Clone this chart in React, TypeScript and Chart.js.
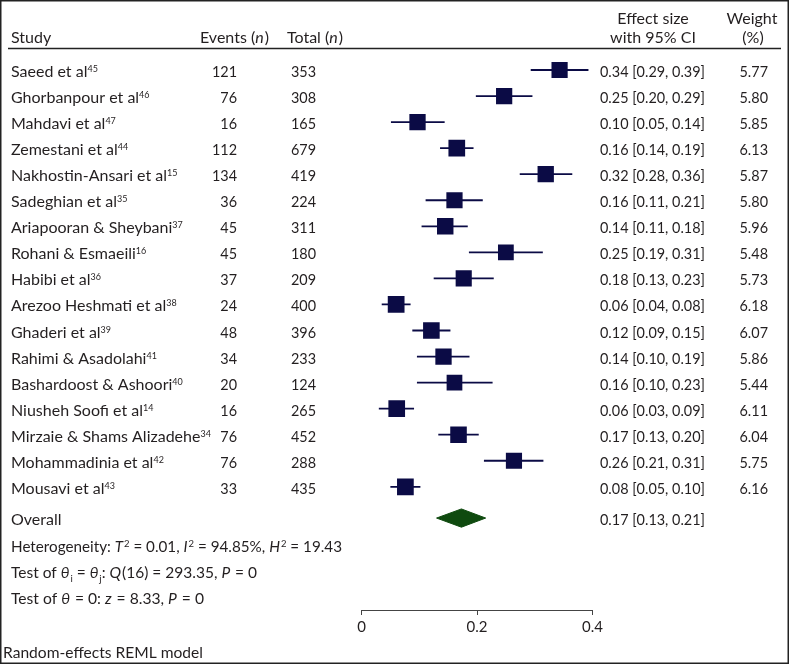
import React, { useEffect, useRef } from "react";
import { Chart, registerables } from "chart.js";

Chart.register(...registerables);

// ---------------- data ----------------
const studies = [
  "Saeed et al",
  "Ghorbanpour et al",
  "Mahdavi et al",
  "Zemestani et al",
  "Nakhostin-Ansari et al",
  "Sadeghian et al",
  "Ariapooran & Sheybani",
  "Rohani & Esmaeili",
  "Habibi et al",
  "Arezoo Heshmati et al",
  "Ghaderi et al",
  "Rahimi & Asadolahi",
  "Bashardoost & Ashoori",
  "Niusheh Soofi et al",
  "Mirzaie & Shams Alizadehe",
  "Mohammadinia et al",
  "Mousavi et al",
];
const refs = ["45", "46", "47", "44", "15", "35", "37", "16", "36", "38", "39", "41", "40", "14", "34", "42", "43"];
const events = [121, 76, 16, 112, 134, 36, 45, 45, 37, 24, 48, 34, 20, 16, 76, 76, 33];
const totals = [353, 308, 165, 679, 419, 224, 311, 180, 209, 400, 396, 233, 124, 265, 452, 288, 435];
const effects = [0.343, 0.247, 0.097, 0.165, 0.319, 0.161, 0.145, 0.25, 0.177, 0.06, 0.121, 0.142, 0.161, 0.061, 0.168, 0.264, 0.076];
const lowerCI = [0.293, 0.198, 0.051, 0.136, 0.274, 0.111, 0.104, 0.186, 0.125, 0.035, 0.088, 0.096, 0.096, 0.03, 0.133, 0.212, 0.05];
const upperCI = [0.393, 0.296, 0.144, 0.194, 0.365, 0.21, 0.184, 0.314, 0.229, 0.085, 0.154, 0.187, 0.227, 0.091, 0.203, 0.315, 0.102];
const effectLabels = [
  "0.34 [0.29, 0.39]",
  "0.25 [0.20, 0.29]",
  "0.10 [0.05, 0.14]",
  "0.16 [0.14, 0.19]",
  "0.32 [0.28, 0.36]",
  "0.16 [0.11, 0.21]",
  "0.14 [0.11, 0.18]",
  "0.25 [0.19, 0.31]",
  "0.18 [0.13, 0.23]",
  "0.06 [0.04, 0.08]",
  "0.12 [0.09, 0.15]",
  "0.14 [0.10, 0.19]",
  "0.16 [0.10, 0.23]",
  "0.06 [0.03, 0.09]",
  "0.17 [0.13, 0.20]",
  "0.26 [0.21, 0.31]",
  "0.08 [0.05, 0.10]",
];
const weights = [5.77, 5.8, 5.85, 6.13, 5.87, 5.8, 5.96, 5.48, 5.73, 6.18, 6.07, 5.86, 5.44, 6.11, 6.04, 5.75, 6.16];

const overallEffect = 0.173;
const overallLower = 0.13;
const overallUpper = 0.215;
const overallLabel = "0.17 [0.13, 0.21]";

const tau2 = "0.01";
const i2 = "94.85";
const h2 = "19.43";
const qDf = "16";
const qStat = "293.35";
const qP = "0";
const zStat = "8.33";
const zP = "0";

const xTicks = [0, 0.2, 0.4];

// ---------------- styles ----------------
const FONT = "Lato, 'Open Sans', 'DejaVu Sans', sans-serif";
const NAVY = "#0b0b45";
const GREEN = "#0f4a0f";
const TEXT = "#231f20";
const SIZE = 16;
const SMALL = 10;
const ROW_PX = 26.05;
const FIRST_ROW_PX = 70;
const AXIS_PX = 610;
const DIAMOND_HALF = 0.35;
const EFFECT_TEXT_W = 105;
let numSx = 0.9;

type Seg = { t: string; it?: boolean; sup?: boolean; sub?: boolean; num?: boolean };

function fontStr(size: number, italic = false) {
  return `${italic ? "italic " : ""}${size}px ${FONT}`;
}

function drawText(
  ctx: CanvasRenderingContext2D,
  t: string,
  x: number,
  y: number,
  align: CanvasTextAlign = "left",
  opts: { size?: number; it?: boolean; sx?: number; fit?: number } = {}
) {
  ctx.font = fontStr(opts.size ?? SIZE, opts.it);
  let sx = opts.sx ?? 1;
  if (opts.fit) sx = opts.fit / ctx.measureText(t).width;
  ctx.save();
  ctx.translate(x, y);
  ctx.scale(sx, 1);
  ctx.textAlign = align;
  ctx.textBaseline = "alphabetic";
  ctx.fillText(t, 0, 0);
  ctx.restore();
}

function segW(ctx: CanvasRenderingContext2D, s: Seg) {
  const size = s.sup || s.sub ? SMALL : SIZE;
  ctx.font = fontStr(size, s.it);
  return ctx.measureText(s.t).width * (s.num ? numSx : 1) + (s.it ? 1 : 0);
}

function drawRich(ctx: CanvasRenderingContext2D, segs: Seg[], x: number, baseline: number, fit?: number) {
  let nat = 0;
  for (const s of segs) nat += segW(ctx, s);
  const f = fit ? fit / nat : 1;
  ctx.save();
  ctx.translate(x, baseline);
  ctx.scale(f, 1);
  let cx = 0;
  for (const s of segs) {
    const w = segW(ctx, s);
    const sx = s.num ? numSx : 1;
    const dy = s.sup ? -5 : s.sub ? 4 : 0;
    ctx.save();
    ctx.translate(cx, dy);
    ctx.scale(sx, 1);
    ctx.textAlign = "left";
    ctx.textBaseline = "alphabetic";
    ctx.fillText(s.t, 0, 0);
    ctx.restore();
    cx += w;
  }
  ctx.restore();
}

const App = () => {
  const ref = useRef<HTMLCanvasElement>(null);

  useEffect(() => {
    const canvas = ref.current;
    if (!canvas) return;

    const overallRow = studies.length + 0.2;
    const squares = effects.map((e, i) => ({ x: e, y: i }));
    const radii = weights.map((w) => (16.3 * Math.sqrt(w / 5.85)) / (2 * Math.SQRT1_2));
    const whiskers: any[] = [];
    lowerCI.forEach((lo, i) => {
      whiskers.push({ x: lo, y: i }, { x: upperCI[i], y: i }, { x: null, y: null });
    });
    const diamond = [
      { x: overallLower, y: overallRow },
      { x: overallEffect, y: overallRow - DIAMOND_HALF },
      { x: overallUpper, y: overallRow },
      { x: overallEffect, y: overallRow + DIAMOND_HALF },
      { x: overallLower, y: overallRow },
    ];

    const yMin = -FIRST_ROW_PX / ROW_PX;
    const yMax = yMin + AXIS_PX / ROW_PX;

    const textPlugin = {
      id: "forestText",
      afterDraw(chart: any) {
        const ctx: CanvasRenderingContext2D = chart.ctx;
        const yScale = chart.scales.y;
        ctx.save();
        ctx.fillStyle = TEXT;
        ctx.font = fontStr(SIZE);
        numSx = EFFECT_TEXT_W / ctx.measureText(effectLabels[0]).width;

        // header
        drawText(ctx, "Effect size", 653, 24, "center");
        drawText(ctx, "Weight", 752, 24, "center");
        drawText(ctx, "Study", 11, 42.5);
        drawRich(ctx, [{ t: "Events (" }, { t: "n", it: true }, { t: ")" }], 200, 42.5);
        drawRich(ctx, [{ t: "Total (" }, { t: "n", it: true }, { t: ")" }], 287, 42.5);
        drawText(ctx, "with 95% CI", 653, 42.5, "center");
        drawText(ctx, "(%)", 753, 42.5, "center");

        // header rule
        ctx.strokeStyle = "#222";
        ctx.lineWidth = 1.5;
        ctx.beginPath();
        ctx.moveTo(8, 48.5);
        ctx.lineTo(781, 48.5);
        ctx.stroke();

        // rows
        studies.forEach((name, i) => {
          const b = yScale.getPixelForValue(i) + 7;
          drawRich(ctx, [{ t: name }, { t: refs[i], sup: true, num: true }], 11, b);
          drawText(ctx, String(events[i]), 237, b, "right", { sx: numSx });
          drawText(ctx, String(totals[i]), 291, b, "left", { sx: numSx });
          drawText(ctx, effectLabels[i], 600, b, "left", { sx: numSx });
          drawText(ctx, weights[i].toFixed(2), 768, b, "right", { sx: numSx });
        });

        // overall
        const ob = yScale.getPixelForValue(overallRow) + 7;
        drawText(ctx, "Overall", 11, ob);
        drawText(ctx, overallLabel, 600, ob, "left", { sx: numSx });

        // footer statistics
        drawRich(
          ctx,
          [
            { t: "Heterogeneity: " },
            { t: "T", it: true },
            { t: "2", sup: true },
            { t: ` = ${tau2}, ` },
            { t: "I", it: true },
            { t: "2", sup: true },
            { t: ` = ${i2}%, ` },
            { t: "H", it: true },
            { t: "2", sup: true },
            { t: ` = ${h2}` },
          ],
          11,
          551.5,
          331
        );
        drawRich(
          ctx,
          [
            { t: "Test of " },
            { t: "θ", it: true },
            { t: "i", sub: true },
            { t: " = " },
            { t: "θ", it: true },
            { t: "j", sub: true },
            { t: ": " },
            { t: "Q", it: true },
            { t: `(${qDf}) = ${qStat}, ` },
            { t: "P", it: true },
            { t: ` = ${qP}` },
          ],
          11,
          577.5,
          246
        );
        drawRich(
          ctx,
          [
            { t: "Test of " },
            { t: "θ", it: true },
            { t: " = 0: " },
            { t: "z", it: true },
            { t: ` = ${zStat}, ` },
            { t: "P", it: true },
            { t: ` = ${zP}` },
          ],
          11,
          604,
          193
        );
        drawText(ctx, "Random-effects REML model", 3, 657.5, "left", { fit: 200 });

        // frame
        ctx.strokeStyle = "#222";
        ctx.lineWidth = 1.5;
        ctx.strokeRect(0.75, 0.75, 787.5, 662.5);
        ctx.restore();
      },
    };

    const chart = new Chart(canvas, {
      type: "scatter",
      data: {
        datasets: [
          {
            type: "scatter",
            data: squares,
            pointStyle: "rect",
            pointRadius: radii,
            pointHoverRadius: radii,
            pointBackgroundColor: NAVY,
            backgroundColor: NAVY,
            pointBorderWidth: 0,
            borderWidth: 0,
            order: 0,
          } as any,
          {
            type: "line",
            data: whiskers,
            borderColor: NAVY,
            borderWidth: 1.8,
            pointRadius: 0,
            spanGaps: false,
            fill: false,
            tension: 0,
            order: 1,
          } as any,
          {
            type: "line",
            data: diamond,
            borderColor: GREEN,
            backgroundColor: GREEN,
            borderWidth: 1,
            pointRadius: 0,
            fill: "shape",
            tension: 0,
            order: 2,
          } as any,
        ],
      },
      options: {
        responsive: false,
        animation: false,
        devicePixelRatio: 1,
        events: [],
        layout: { autoPadding: false, padding: { left: 361.5, right: 197.5, top: 0, bottom: 0 } },
        plugins: { legend: { display: false }, tooltip: { enabled: false } },
        scales: {
          x: {
            type: "linear",
            position: "bottom",
            min: 0,
            max: 0.4,
            afterBuildTicks: (s: any) => {
              s.ticks = xTicks.map((v) => ({ value: v }));
            },
            afterFit: (s: any) => {
              s.height = 665 - AXIS_PX;
            },
            ticks: {
              callback: (v: any) => (Number(v) === 0 ? "0" : Number(v).toFixed(1)),
              font: { family: FONT, size: 15 },
              color: TEXT,
              padding: 3,
              maxRotation: 0,
              autoSkip: false,
            },
            grid: {
              display: true,
              drawOnChartArea: false,
              drawTicks: true,
              tickLength: 5,
              color: "#444",
              lineWidth: 1,
            },
            border: { display: true, color: "#444", width: 1 },
          },
          y: {
            type: "linear",
            display: false,
            reverse: true,
            min: yMin,
            max: yMax,
          },
        },
      } as any,
      plugins: [textPlugin],
    });

    return () => chart.destroy();
  }, []);

  return (
    <div style={{ position: "absolute", left: 0, top: 0, width: 790, height: 665, background: "#fff" }}>
      <canvas ref={ref} width={790} height={665} style={{ width: 790, height: 665, display: "block" }} />
    </div>
  );
};

export default App;
